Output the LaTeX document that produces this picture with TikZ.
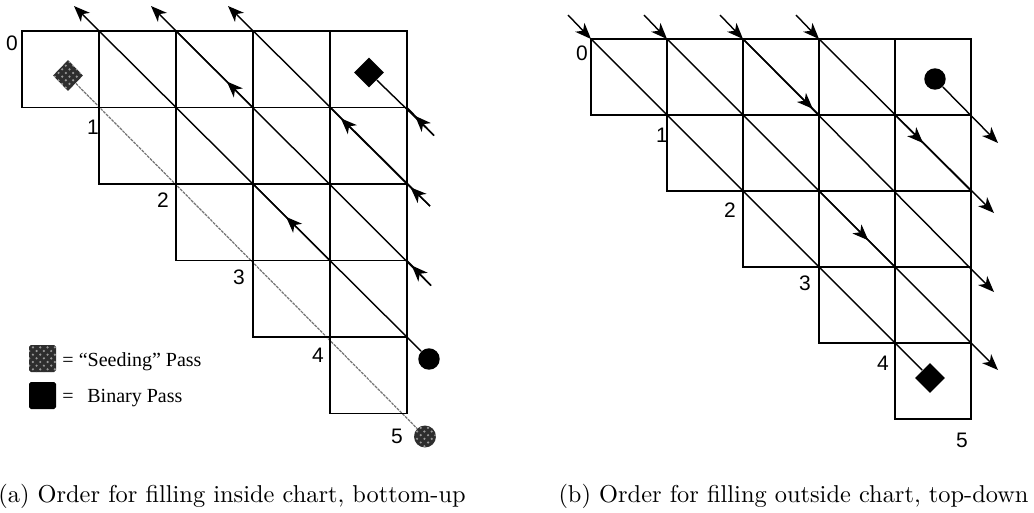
\documentclass[tikz,border=0pt]{standalone}
\usepackage{fontspec}
\newfontfamily\lblfont{Liberation Sans}
\newfontfamily\legfont{Liberation Serif}
\usetikzlibrary{arrows.meta,calc,shapes.geometric,patterns,decorations.markings}
\tikzset{
  gridline/.style={draw=black, line width=0.74pt, line cap=rect},
  ln/.style={draw=black, line width=0.58pt},
  arrtip/.style={-{Stealth[length=6.6pt,width=5.2pt,inset=1.9pt]}},
  midarrow/.style={postaction={decorate}, decoration={markings,
      mark=at position #1 with {\arrow{Stealth[length=6.6pt,width=5.2pt,inset=1.9pt]}}}},
  lbl/.style={inner sep=0pt, font=\lblfont\fontsize{8.6pt}{10pt}\selectfont},
  legtext/.style={inner sep=0pt, anchor=base west, font=\legfont\fontsize{8.2pt}{10pt}\selectfont},
  seedfill/.style={fill=black!82, postaction={pattern=crosshatch dots, pattern color=white!60!black}},
  bdiamond/.style={diamond, fill=black, inner sep=0pt, minimum width=12.4pt, minimum height=12.4pt},
  sdiamond/.style={diamond, seedfill, inner sep=0pt, minimum width=12.4pt, minimum height=12.8pt},
  bcircle/.style={circle, fill=black, inner sep=0pt, minimum size=8.8pt},
  scircle/.style={circle, seedfill, inner sep=0pt, minimum size=9pt},
  seedline/.style={draw=black!55, line width=0.5pt, dash pattern=on 1.2pt off 0.4pt},
  captext/.style={anchor=base, inner sep=0pt}
}
\begin{document}
\begin{tikzpicture}[x=0.41pt, y=-0.41pt]
\useasboundingbox (0,0) rectangle (1034,512);
% ---------- corner coordinates (whole pixels)
\foreach \r in {0,...,5}{
  \foreach \c in {0,...,5}{
    \coordinate (L-\r-\c) at ({22+77*\c},{31+76.5*\r});
    \coordinate (R-\r-\c) at ({591+76*\c},{39+76*\r});
  }
}
% ================= LEFT CHART =================
\node[sdiamond] (sdiam) at ($(L-1-1)+(-31,-32)$) {};
\node[scircle] (scirc) at ($(L-5-5)+(18,23)$) {};
\draw[seedline] (sdiam) -- (scirc);
\draw[gridline]
  (L-0-0) -- (L-0-5)  (L-1-0) -- (L-1-5)  (L-2-1) -- (L-2-5)
  (L-3-2) -- (L-3-5)  (L-4-3) -- (L-4-5)  (L-5-4) -- (L-5-5)
  (L-0-0) -- (L-1-0)  (L-0-1) -- (L-2-1)  (L-0-2) -- (L-3-2)
  (L-0-3) -- (L-4-3)  (L-0-4) -- (L-5-4)  (L-0-5) -- (L-5-5);
\node[bdiamond] (bdiam) at ($(L-1-5)+(-38,-35)$) {};
\node[bcircle] (circA) at ($(L-4-5)+(22,22)$) {};
\coordinate (topA) at ($(L-0-1)+(-25,-25)$);
\coordinate (topB) at ($(L-0-2)+(-25,-25)$);
\coordinate (topC) at ($(L-0-3)+(-25,-25)$);
\coordinate (tB) at ($(L-3-5)+(24,25)$);
\coordinate (tC) at ($(L-2-5)+(23,22)$);
\coordinate (tD) at ($(L-1-5)+(27,28)$);
% line A
\draw[ln,arrtip] (circA) -- (topA);
\draw[ln,midarrow=0.57] (L-3-4) -- (L-2-3);
% line B
\draw[ln,arrtip] (tB) -- (topB);
\draw[ln,midarrow=0.8] (tB) -- (L-3-5);
\draw[ln,midarrow=0.34] (L-1-3) -- (L-0-2);
% line C
\draw[ln,arrtip] (tC) -- (topC);
\draw[ln,midarrow=0.85] (tC) -- (L-2-5);
\draw[ln,midarrow=0.86] (L-2-5) -- (L-1-4);
% line D
\draw[ln] (tD) -- (bdiam);
\draw[ln,midarrow=0.7] (tD) -- (L-1-5);
% labels
\node[lbl] (la0) at (12,43) {0};
\node[lbl] (la1) at (93,127) {1};
\node[lbl] (la2) at (163,200) {2};
\node[lbl] (la3) at (239,277) {3};
\node[lbl] (la4) at (318,355) {4};
\node[lbl] (la5) at (397,436) {5};
% legend
\path[seedfill, rounded corners=0.8pt] (29,345) rectangle (56,372);
\path[fill=black, rounded corners=0.8pt] (29,382) rectangle (56,409);
\node[legtext] (legs) at (62,366.5) {= “Seeding” Pass};
\node[legtext] (legb) at (62,402.7) {=\hspace{5.6pt}Binary Pass};
% caption
\node[captext] (capa) at (232,502) {(a) Order for filling inside chart, bottom-up};
% ================= RIGHT CHART =================
\draw[gridline]
  (R-0-0) -- (R-0-5)  (R-1-0) -- (R-1-5)  (R-2-1) -- (R-2-5)
  (R-3-2) -- (R-3-5)  (R-4-3) -- (R-4-5)  (R-5-4) -- (R-5-5)
  (R-0-0) -- (R-1-0)  (R-0-1) -- (R-2-1)  (R-0-2) -- (R-3-2)
  (R-0-3) -- (R-4-3)  (R-0-4) -- (R-5-4)  (R-0-5) -- (R-5-5);
\node[bdiamond] (rdiam) at ($(R-4-4)+(35,35)$) {};
\node[bcircle] (rcirc) at ($(R-1-5)+(-36,-36)$) {};
\foreach \k in {0,...,3}{
  \coordinate (in\k) at ($(R-0-\k)+(-23,-24)$);
  \draw[ln,arrtip] (in\k) -- (R-0-\k);
}
\coordinate (e2) at ($(R-4-5)+(27,27)$);
\coordinate (e3) at ($(R-3-5)+(23,25)$);
\coordinate (e4) at ($(R-2-5)+(23,22)$);
\coordinate (e5) at ($(R-1-5)+(27,28)$);
\draw[ln] (R-0-0) -- (rdiam);
\draw[ln,arrtip] (R-0-1) -- (e2);
\draw[ln,midarrow=0.65] (R-2-3) -- (R-3-4);
\draw[ln,arrtip] (R-0-2) -- (e3);
\draw[ln,midarrow=0.92] (R-0-2) -- (R-1-3);
\draw[ln,arrtip] (R-0-3) -- (e4);
\draw[ln,midarrow=0.37] (R-1-4) -- (R-2-5);
\draw[ln,arrtip] (rcirc) -- (e5);
% labels
\node[lbl] (lb0) at (582,53) {0};
\node[lbl] (lb1) at (662,135) {1};
\node[lbl] (lb2) at (730,210) {2};
\node[lbl] (lb3) at (805,283) {3};
\node[lbl] (lb4) at (883,363) {4};
\node[lbl] (lb5) at (962,440) {5};
% caption
\node[captext] (capb) at (793.5,502) {(b) Order for filling outside chart, top-down};
\end{tikzpicture}
\end{document}
